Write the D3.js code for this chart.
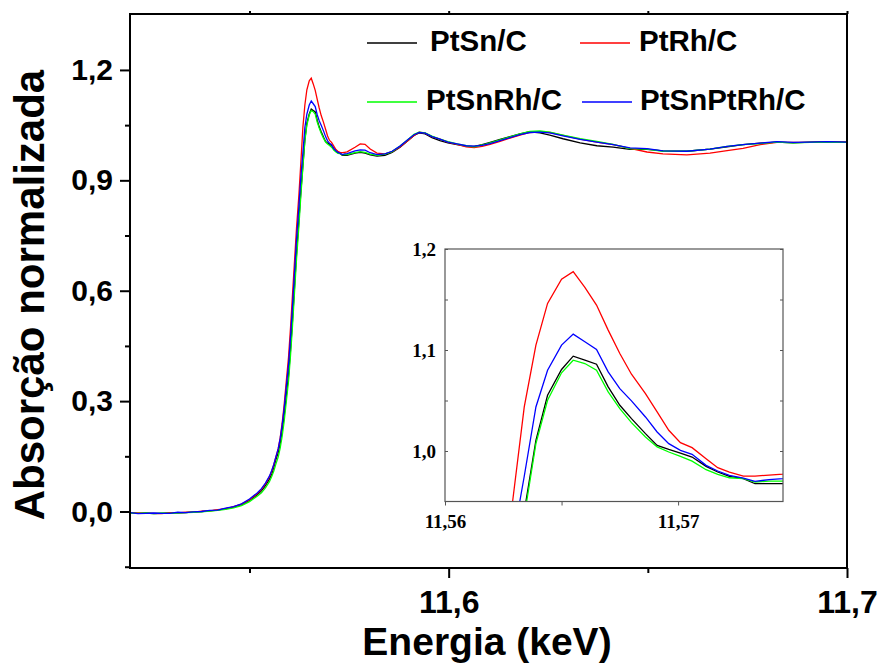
<!DOCTYPE html>
<html><head><meta charset="utf-8">
<script src="https://cdn.jsdelivr.net/npm/d3@7/dist/d3.min.js"></script>
<style>body{margin:0;background:#fff}</style>
</head><body>
<svg id="chart" width="880" height="670"></svg>
<script>
// ---------- DATA ----------
const energy = [
 11.520,11.522,11.524,11.526,11.528,11.530,11.532,11.534,11.536,11.538,
 11.540,11.542,11.544,11.546,11.548,11.550,11.552,11.553,11.554,11.555,
 11.5556,11.5561,11.5566,11.5572,11.5577,11.5582,11.5587,11.5592,11.5598,11.5603,
 11.5608,11.5613,11.5618,11.5624,11.5629,11.5634,
 11.5639,11.5644,11.5650,11.5655,11.5660,11.5665,11.5670,11.5675,11.5680,11.5686,
 11.5691,11.5696,11.5701,11.5706,11.5712,11.5717,11.5722,11.5728,11.5733,11.5739,11.5745,
 11.5765,11.5778,11.5790,11.5803,11.5820,11.5840,11.5858,11.5878,11.5898,11.5913,
 11.5926,11.5941,11.5958,11.5978,11.5998,11.6021,11.6044,11.6064,11.6084,11.6104,
 11.6129,11.6154,11.6179,11.6204,11.6229,11.6254,11.6287,11.6330,11.6372,11.6413,
 11.6455,11.6498,11.6538,11.6598,11.6656,11.6699,11.6739,11.6782,11.6824,11.6865,
 11.6907,11.6950,11.7000
];
const ptsnC = [ // black
 -0.003,-0.005,-0.004,-0.006,-0.005,-0.004,-0.003,-0.003,-0.001,0.000,
 0.002,0.004,0.008,0.012,0.019,0.030,0.046,0.056,0.070,0.088,
 0.102,0.120,0.140,0.160,0.185,0.220,0.260,0.310,0.370,0.440,
 0.520,0.610,0.700,0.790,0.870,0.940,
 1.0106,1.0552,1.0807,1.0939,1.0899,1.0859,1.0635,1.0453,1.0320,1.0172,
 1.0056,1.0016,0.9980,0.9940,0.9848,0.9792,0.9749,0.9726,0.9676,0.9676,0.9676,
 0.974,0.976,0.974,0.969,0.966,0.968,0.976,0.990,1.008,1.022,
 1.029,1.026,1.016,1.008,1.002,0.997,0.993,0.992,0.997,1.003,
 1.011,1.019,1.026,1.032,1.029,1.023,1.013,1.002,0.994,0.990,
 0.984,0.984,0.980,0.979,0.985,0.991,0.997,1.001,1.004,1.002,
 1.004,1.005,1.004
];
const ptrhC = [ // red
 -0.004,-0.004,-0.005,-0.005,-0.006,-0.003,-0.004,-0.002,-0.002,0.001,
 0.002,0.005,0.007,0.013,0.020,0.032,0.049,0.060,0.075,0.094,
 0.110,0.127,0.147,0.170,0.200,0.240,0.290,0.350,0.420,0.500,
 0.590,0.680,0.770,0.860,0.950,1.0436,
 1.1048,1.1461,1.1702,1.1775,1.1620,1.1445,1.1197,1.0965,1.0760,1.0569,
 1.0387,1.0205,1.0083,1.0033,0.9924,0.9835,0.9792,0.9752,0.9752,0.9762,0.9772,
 0.990,0.999,0.998,0.985,0.974,0.972,0.978,0.991,1.008,1.022,
 1.031,1.028,1.019,1.012,1.004,0.998,0.991,0.989,0.992,0.998,
 1.006,1.015,1.023,1.030,1.032,1.030,1.022,1.012,1.004,0.997,
 0.987,0.977,0.972,0.969,0.974,0.981,0.987,0.997,1.003,1.003,
 1.003,1.004,1.004
];
const ptsnrhC = [ // green
 -0.004,-0.005,-0.004,-0.006,-0.004,-0.005,-0.004,-0.003,-0.002,-0.001,
 0.001,0.003,0.006,0.010,0.016,0.027,0.042,0.051,0.064,0.081,
 0.096,0.110,0.128,0.148,0.172,0.205,0.245,0.295,0.355,0.425,
 0.505,0.595,0.685,0.775,0.860,0.935,
 1.0073,1.0502,1.0774,1.0899,1.0866,1.0800,1.0585,1.0420,1.0281,1.0139,
 1.0040,0.9990,0.9947,0.9900,0.9815,0.9769,0.9735,0.9726,0.9693,0.9702,0.9702,
 0.975,0.978,0.976,0.971,0.968,0.971,0.978,0.993,1.011,1.025,
 1.031,1.029,1.020,1.012,1.005,0.999,0.994,0.991,0.996,1.002,
 1.010,1.018,1.026,1.033,1.034,1.031,1.023,1.013,1.006,0.998,
 0.986,0.985,0.979,0.979,0.985,0.992,0.997,1.000,1.004,1.002,
 1.003,1.004,1.003
];
const ptsnptrhC = [ // blue
 -0.003,-0.006,-0.005,-0.004,-0.005,-0.005,-0.002,-0.003,-0.001,0.000,
 0.003,0.004,0.009,0.013,0.021,0.034,0.051,0.062,0.077,0.096,
 0.112,0.128,0.148,0.170,0.198,0.235,0.280,0.335,0.400,0.475,
 0.560,0.650,0.740,0.830,0.910,0.975,
 1.0436,1.0800,1.1048,1.1157,1.1081,1.1005,1.0783,1.0618,1.0496,1.0337,
 1.0188,1.0073,1.0006,0.9967,0.9858,0.9802,0.9759,0.9732,0.9700,0.9716,0.9726,
 0.980,0.983,0.982,0.975,0.970,0.972,0.979,0.993,1.011,1.024,
 1.030,1.028,1.019,1.012,1.004,0.999,0.994,0.993,0.995,1.000,
 1.008,1.016,1.024,1.030,1.031,1.029,1.021,1.011,1.004,0.997,
 0.988,0.986,0.980,0.979,0.985,0.992,0.997,1.001,1.005,1.003,
 1.004,1.005,1.004
];
const seriesNames = ["PtSn/C","PtRh/C","PtSnRh/C","PtSnPtRh/C"];
const seriesColors = ["#000000","#ff0000","#00ff00","#0000ff"];
const mainXTicks = [11.6, 11.7];
const mainXMinor = [11.55, 11.65];
const mainYTicks = [0.0, 0.3, 0.6, 0.9, 1.2];
const mainYMinor = [-0.15, 0.15, 0.45, 0.75, 1.05];
const insetXTicks = [11.56, 11.57];
const insetXMinor = [11.565];
const insetYTicks = [1.0, 1.1, 1.2];
const insetYMinor = [1.05, 1.15];
const xTitle = "Energia (keV)";
const yTitle = "Absorção normalizada";

// ---------- CHART ----------
const svg = d3.select("#chart");
const seriesValues = [ptsnC, ptrhC, ptsnrhC, ptsnptrhC];
const series = seriesNames.map((n,i)=>({name:n,color:seriesColors[i],
  pts: energy.map((e,j)=>({e:e, v:seriesValues[i][j]}))}));
const drawOrder = [0,1,2,3];

const L=130,R=847,T=14,B=568;
const x = d3.scaleLinear().domain([11.52,11.7]).range([L,R]);
const y = d3.scaleLinear().domain([-0.1535,1.352]).range([B,T]);
const comma = (f)=> v => d3.format(f)(v).replace(".",",");

svg.append("clipPath").attr("id","cpMain").append("rect")
  .attr("x",L).attr("y",T).attr("width",R-L).attr("height",B-T);

const line = d3.line().x(d=>x(d.e)).y(d=>y(d.v));
const gm = svg.append("g").attr("clip-path","url(#cpMain)");
drawOrder.forEach(i=>{
  gm.append("path").datum(series[i].pts).attr("d",line)
    .attr("fill","none").attr("stroke",series[i].color).attr("stroke-width",1.3);
});

// axes
const fontSans = "Arial, 'Liberation Sans', sans-serif";
function styleAxis(g){ g.select(".domain").remove(); g.selectAll("line").attr("stroke","#000").attr("stroke-width",2); }
const yAx = svg.append("g").attr("transform",`translate(${L},0)`)
  .call(d3.axisLeft(y).tickValues(mainYTicks).tickSize(10).tickPadding(7).tickFormat(comma(".1f")));
styleAxis(yAx);
yAx.selectAll("text").attr("font-family",fontSans).attr("font-weight","bold").attr("font-size",30).attr("fill","#000");
const yAxm = svg.append("g").attr("transform",`translate(${L},0)`)
  .call(d3.axisLeft(y).tickValues(mainYMinor).tickSize(5).tickFormat(""));
styleAxis(yAxm);
const xAx = svg.append("g").attr("transform",`translate(0,${B})`)
  .call(d3.axisBottom(x).tickValues(mainXTicks).tickSize(10).tickPadding(12).tickFormat(comma(".1f")));
styleAxis(xAx);
xAx.selectAll("text").attr("font-family",fontSans).attr("font-weight","bold").attr("font-size",32).attr("fill","#000");
const xAxm = svg.append("g").attr("transform",`translate(0,${B})`)
  .call(d3.axisBottom(x).tickValues(mainXMinor).tickSize(5).tickFormat(""));
styleAxis(xAxm);
const xTop = svg.append("g").attr("transform",`translate(0,${T})`)
  .call(d3.axisTop(x).tickValues(mainXTicks.concat(mainXMinor)).tickSize(3).tickFormat(""));
styleAxis(xTop);

svg.append("rect").attr("x",L).attr("y",T).attr("width",R-L).attr("height",B-T)
  .attr("fill","none").attr("stroke","#000").attr("stroke-width",2);

// titles
svg.append("text").attr("x",487).attr("y",655).attr("text-anchor","middle")
  .attr("font-family",fontSans).attr("font-weight","bold").attr("font-size",39).text(xTitle);
svg.append("text").attr("transform","translate(44,295) rotate(-90)").attr("text-anchor","middle")
  .attr("font-family",fontSans).attr("font-weight","bold").attr("font-size",42).text(yTitle);

// legend
const legPos = [[367,43,430],[580,43,639],[367,102,426],[582,102,640]];
series.forEach((s,i)=>{
  const p = legPos[i];
  svg.append("line").attr("x1",p[0]).attr("x2",p[0]+50).attr("y1",p[1]).attr("y2",p[1])
    .attr("stroke",s.color).attr("stroke-width",1.5);
  svg.append("text").attr("x",p[2]).attr("y",p[1]+8).attr("font-family",fontSans)
    .attr("font-weight","bold").attr("font-size",29.5).text(s.name);
});

// inset
const iL=445,iR=783,iT=249,iB=501.5;
const xi = d3.scaleLinear().domain([11.56,11.5745]).range([iL,iR]);
const yi = d3.scaleLinear().domain([0.95,1.2]).range([iB,iT]);
svg.append("rect").attr("x",iL).attr("y",iT).attr("width",iR-iL).attr("height",iB-iT).attr("fill","#fff");
svg.append("clipPath").attr("id","cpIn").append("rect")
  .attr("x",iL).attr("y",iT).attr("width",iR-iL).attr("height",iB-iT);
const lineI = d3.line().x(d=>xi(d.e)).y(d=>yi(d.v));
const gi = svg.append("g").attr("clip-path","url(#cpIn)");
drawOrder.forEach(i=>{
  gi.append("path").datum(series[i].pts).attr("d",lineI)
    .attr("fill","none").attr("stroke",series[i].color).attr("stroke-width",1.3);
});
const fontSerif = "'Liberation Serif','Times New Roman',serif";
function styleI(g){ g.select(".domain").remove(); g.selectAll("line").attr("stroke","#555").attr("stroke-width",1); }
const yiAx = svg.append("g").attr("transform",`translate(${iL},0)`)
  .call(d3.axisLeft(yi).tickValues(insetYTicks).tickSize(-3).tickPadding(9).tickFormat(comma(".1f")));
styleI(yiAx);
yiAx.selectAll("text").attr("font-family",fontSerif).attr("font-weight",700).attr("font-size",19).attr("fill","#000");
const yiAxm = svg.append("g").attr("transform",`translate(${iL},0)`)
  .call(d3.axisLeft(yi).tickValues(insetYMinor).tickSize(-3).tickFormat(""));
styleI(yiAxm);
const yiR = svg.append("g").attr("transform",`translate(${iR},0)`)
  .call(d3.axisRight(yi).tickValues(insetYTicks.concat(insetYMinor)).tickSize(-3).tickFormat(""));
styleI(yiR);
const xiAx = svg.append("g").attr("transform",`translate(0,${iB})`)
  .call(d3.axisBottom(xi).tickValues(insetXTicks).tickSize(4).tickPadding(9).tickFormat(comma(".2f")));
styleI(xiAx);
xiAx.selectAll("text").attr("font-family",fontSerif).attr("font-weight",700).attr("font-size",19).attr("fill","#000");
const xiAxm = svg.append("g").attr("transform",`translate(0,${iB})`)
  .call(d3.axisBottom(xi).tickValues(insetXMinor).tickSize(4).tickFormat(""));
styleI(xiAxm);
svg.append("rect").attr("x",iL).attr("y",iT).attr("width",iR-iL).attr("height",iB-iT)
  .attr("fill","none").attr("stroke","#555").attr("stroke-width",1.2);
</script>
</body></html>
